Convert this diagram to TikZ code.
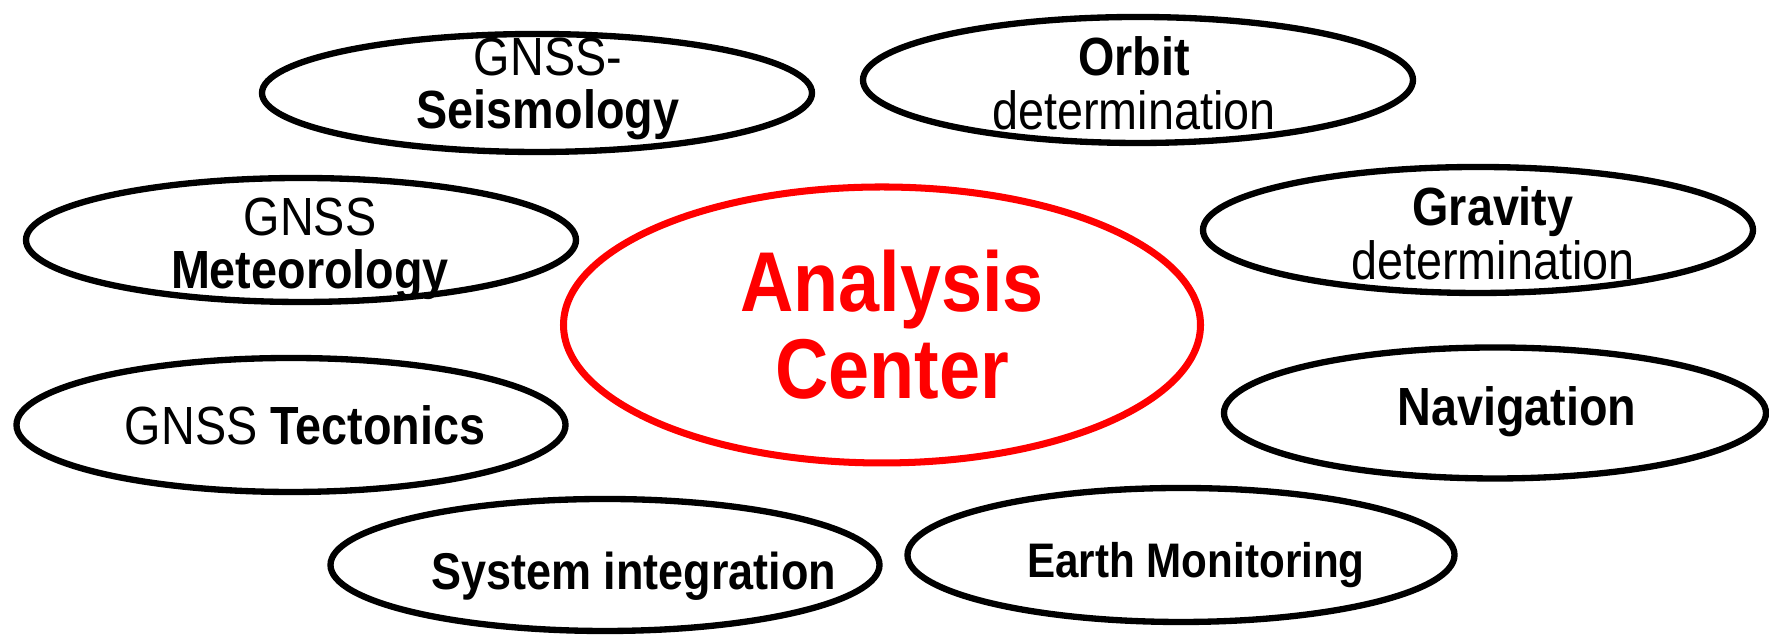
\documentclass[tikz,border=0pt]{standalone}
\usepackage{fontspec}
\setmainfont{Liberation Sans}
\usepackage{xcolor}
\usepackage{tikz}
\usetikzlibrary{shapes.geometric}
\tikzstyle{topic} = [ellipse, draw = black, line width = 1.8pt, minimum width = 5.5cm, minimum height = 1.25cm]
\tikzstyle{centre} = [ellipse, draw = red, line width = 2pt, minimum width = 6.37cm, minimum height = 2.76cm]
\tikzstyle{txt} = [align = center, inner sep = 0pt, yscale = 1.15, transform shape, font = \fontsize{13.3}{13.3}\selectfont]
\tikzstyle{bigtxt} = [align = center, inner sep = 0pt, text = red, yscale = 1.15, transform shape, font = \fontsize{21}{21.5}\selectfont\bfseries]

\begin{document}
\begin{tikzpicture}

\useasboundingbox (0,0) rectangle (17.69,6.42);

\node(seismo) [topic, minimum height = 1.18cm] at (5.37,5.49) {};
\node(orbit) [topic, minimum height = 1.26cm] at (11.38,5.62) {};
\node(meteo) [topic, minimum height = 1.24cm] at (3.01,4.02) {};
\node(gravity) [topic, minimum height = 1.26cm] at (14.78,4.12) {};
\node(centre) [centre] at (8.82,3.17) {};
\node(tecto) [topic, minimum width = 5.49cm, minimum height = 1.34cm] at (2.91,2.17) {};
\node(navi) [topic, minimum width = 5.42cm, minimum height = 1.31cm] at (14.95,2.29) {};
\node(sysint) [topic, minimum width = 5.49cm, minimum height = 1.32cm] at (6.05,0.77) {};
\node(earth) [topic, minimum width = 5.47cm, minimum height = 1.34cm] at (11.81,0.87) {};

\node(seismoText) [txt] at (5.48,5.53) {GNSS-\\\textbf{Seismology}};
\node(orbitText) [txt] at (11.34,5.59) {\textbf{Orbit}\\determination};
\node(meteoText) [txt] at (3.10,3.93) {GNSS\\\textbf{Meteorology}};
\node(gravityText) [txt] at (14.93,4.09) {\textbf{Gravity}\\determination};
\node(centreText) [bigtxt] at (8.92,3.17) {Analysis\\Center};
\node(tectoText) [txt] at (3.05,2.17) {GNSS \textbf{Tectonics}};
\node(naviText) [txt] at (15.17,2.30) {\textbf{Navigation}};
\node(sysintText) [txt, font = \fontsize{12.8}{14}\selectfont] at (6.34,0.66) {\textbf{System integration}};
\node(earthText) [txt, font = \fontsize{12}{14}\selectfont] at (11.96,0.77) {\textbf{Earth Monitoring}};

\end{tikzpicture}
\end{document}
